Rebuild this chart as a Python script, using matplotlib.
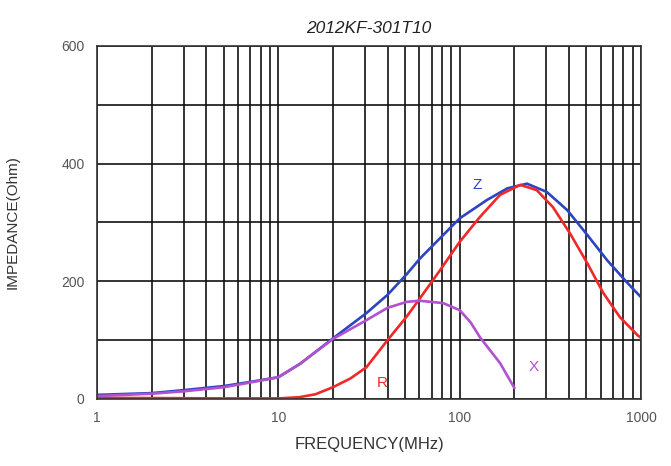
import matplotlib.pyplot as plt
from matplotlib.ticker import FixedLocator, NullFormatter

plt.rcParams['font.family'] = ['Liberation Sans', 'DejaVu Sans']

# values (MHz, Ohm)
z_freq = [1, 2, 3, 5, 7, 10, 13.2, 20, 30.6, 40, 51, 60.5, 100, 141, 183, 235, 302, 392, 505, 650, 832, 1000]
z_val  = [7, 10, 15, 22, 29, 37, 60, 103, 146, 177, 212, 239, 307, 338, 358, 366, 352, 321, 279, 236, 199, 173]

r_freq = [1, 5, 10, 13, 16, 20, 25, 30.6, 40, 51, 60, 78, 100, 129, 167, 216, 266, 327, 405, 505, 620, 765, 960, 1000]
r_val  = [2, 1, 1, 3, 8, 20, 35, 54, 100, 140, 170, 219, 267, 309, 347, 364, 355, 326, 282, 231, 180, 139, 108, 104]

x_freq = [1, 2, 3, 5, 7, 10, 13.2, 20, 30.6, 40, 51, 60, 81, 100, 115, 130, 167, 200]
x_val  = [5, 9, 13, 20, 28, 37, 60, 102, 134, 155, 165, 167, 163, 151, 130, 104, 61, 19]

fig = plt.figure(figsize=(6.71, 4.66), dpi=100)
ax = fig.add_axes([0.1446, 0.1438, 0.8107, 0.7575])

ax.plot(z_freq, z_val, color='#2b45c2', lw=1.9, solid_joinstyle='round')
ax.plot(r_freq, r_val, color='#f02828', lw=1.9, solid_joinstyle='round')
ax.plot(x_freq, x_val, color='#b251cf', lw=1.9, solid_joinstyle='round')

ax.set_xscale('log')
ax.set_xlim(1, 1000)
ax.set_ylim(0, 600)

ax.set_xticks([1, 10, 100, 1000])
ax.set_xticklabels(['1', '10', '100', '1000'])
ax.xaxis.set_minor_locator(FixedLocator([m * d for d in (1, 10, 100) for m in range(2, 10)]))
ax.xaxis.set_minor_formatter(NullFormatter())
ax.set_yticks([0, 200, 400, 600])
ax.yaxis.set_minor_locator(FixedLocator([100, 300, 500]))

ax.grid(True, which='both', color='#111111', lw=1.2)
ax.set_axisbelow(True)
ax.tick_params(which='both', length=0, labelsize=10, labelcolor='#555555', pad=9)
for s in ax.spines.values():
    s.set_color('#333333')
    s.set_linewidth(1.2)

ax.set_title('2012KF-301T10', style='italic', fontsize=12.5, color='#222222', pad=9)
ax.set_xlabel('FREQUENCY(MHz)', fontsize=12, color='#333333', labelpad=8)
ax.set_ylabel('IMPEDANCE(Ohm)', fontsize=11, color='#333333', labelpad=30)

ax.text(118, 357, 'Z', color='#2b45c2', fontsize=11)
ax.text(35, 20, 'R', color='#f02828', fontsize=11)
ax.text(240, 47, 'X', color='#b251cf', fontsize=11)

fig.savefig('out.png', dpi=100)
